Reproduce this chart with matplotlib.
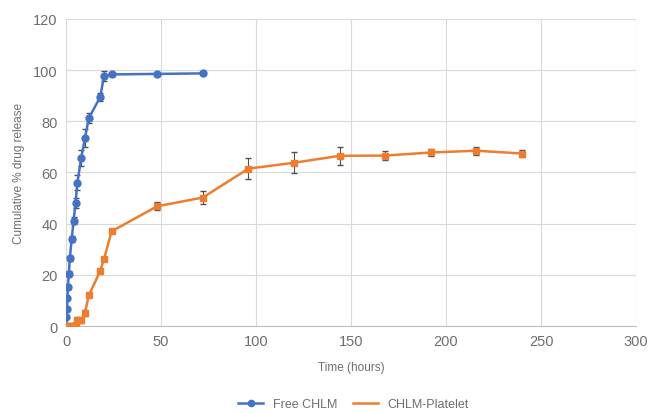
import matplotlib.pyplot as plt
from matplotlib.lines import Line2D

plt.rcParams["font.family"] = ["Liberation Sans", "DejaVu Sans"]

free_t = [0, 0.25, 0.5, 0.75, 1, 1.5, 2, 3, 4, 5, 6, 8, 10, 12, 18, 20, 24, 48, 72]
free_y = [0, 3.5, 6.8, 10.8, 15.2, 20.5, 26.5, 34, 41.2, 48, 56, 65.7, 73.5, 81.2, 89.5, 97.6, 98.3, 98.5, 98.7]
free_err = [0.3, 0.5, 0.5, 0.6, 0.8, 1, 1, 1.2, 1.5, 2, 3, 3, 3.5, 2, 1.5, 2, 0.6, 0.5, 0.5]

plt_t = [0, 1, 2, 3, 4, 5, 6, 8, 10, 12, 18, 20, 24, 48, 72, 96, 120, 144, 168, 192, 216, 240]
plt_y = [0, 0, 0, 0, 0, 0.3, 2.5, 2.3, 5.2, 12, 21.5, 26.2, 37, 46.8, 50.2, 61.5, 63.8, 66.5, 66.6, 67.8, 68.5, 67.4]
plt_err = [0.3, 0.3, 0.3, 0.3, 0.3, 0.3, 1, 1, 1.2, 0.8, 0.8, 0.8, 0.6, 1.5, 2.5, 4, 4, 3.6, 1.8, 1.5, 1.5, 1.3]

blue = "#4472C4"
orange = "#ED7D31"
grey = "#6E6E6E"

fig = plt.figure(figsize=(6.49, 4.14), dpi=100)
ax = fig.add_axes([0.1017, 0.21, 0.8783, 0.742])

ax.errorbar(free_t, free_y, yerr=free_err, color=blue, marker="o", markersize=5,
            linewidth=1.8, ecolor="#505050", elinewidth=0.8, capsize=2.5, zorder=3)
ax.errorbar(plt_t, plt_y, yerr=plt_err, color=orange, marker="s", markersize=4.5,
            linewidth=1.8, ecolor="#505050", elinewidth=0.8, capsize=2.5, zorder=3)

ax.set_xlim(0, 300)
ax.set_ylim(0, 120)
ax.set_xticks(range(0, 301, 50))
ax.set_yticks(range(0, 121, 20))
ax.grid(True, color="#D9D9D9", linewidth=0.8)
ax.set_axisbelow(True)
for side in ["top", "right", "left"]:
    ax.spines[side].set_visible(False)
ax.spines["bottom"].set_color("#BFBFBF")
ax.tick_params(length=0, labelsize=10.5, labelcolor=grey, pad=6)

ax.set_xlabel("Time (hours)", fontsize=8.5, color=grey, labelpad=9)
ax.set_ylabel("Cumulative % drug release", fontsize=8.5, color=grey, labelpad=6)

handles = [
    Line2D([], [], color=blue, marker="o", markersize=4.5, linewidth=1.8),
    Line2D([], [], color=orange, linewidth=1.8),
]
ax.legend(handles, ["Free CHLM", "CHLM-Platelet"], loc="lower center",
          bbox_to_anchor=(0.505, -0.31), ncol=2, frameon=False,
          fontsize=9, labelcolor=grey, handlelength=2, columnspacing=1.2)

fig.savefig("out.png", dpi=100)
